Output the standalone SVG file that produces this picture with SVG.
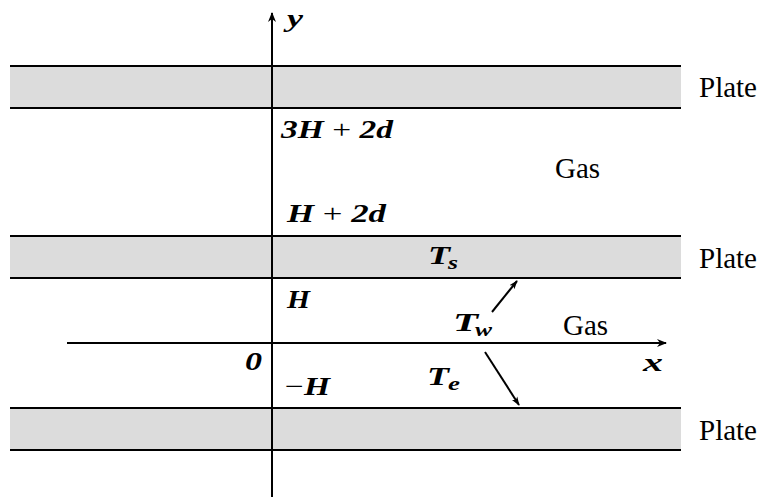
<svg xmlns="http://www.w3.org/2000/svg" width="763" height="498" viewBox="0 0 763 498">
<style>
.plate{fill:#dcdcdc;stroke:none}
.edge{stroke:#000;stroke-width:2.2;fill:none}
.ax{stroke:#000;stroke-width:2;fill:none}
.lbl{font-family:'Liberation Serif','Times New Roman','DejaVu Serif',serif;font-size:29px;fill:#000}
.m{font-family:'Liberation Serif','Times New Roman','DejaVu Serif',serif;font-size:26px;font-weight:bold;font-style:italic;fill:#000}
.sub{font-size:19px}
.up{font-style:normal;font-weight:normal}
</style>
<defs>
<marker id="ah" viewBox="0 0 10 10" refX="9" refY="5" markerWidth="10" markerHeight="10" markerUnits="userSpaceOnUse" orient="auto">
<path d="M0,1 L10,5 L0,9 L3,5 Z" fill="#000"/>
</marker>
<marker id="ah2" viewBox="0 0 10 10" refX="9" refY="5" markerWidth="9" markerHeight="9" markerUnits="userSpaceOnUse" orient="auto">
<path d="M0,1.5 L10,5 L0,8.5 L2.5,5 Z" fill="#000"/>
</marker>
</defs>
<g id="plate-top">
<rect class="plate" x="10" y="66" width="671" height="42"/>
<line class="edge" x1="10" y1="66" x2="681" y2="66"/>
<line class="edge" x1="10" y1="108" x2="681" y2="108"/>
<text class="lbl" x="699" y="97">Plate</text>
</g>
<g id="plate-mid">
<rect class="plate" x="10" y="236" width="671" height="42"/>
<line class="edge" x1="10" y1="236" x2="681" y2="236"/>
<line class="edge" x1="10" y1="278" x2="681" y2="278"/>
<text class="lbl" x="699" y="268">Plate</text>
<text class="m" x="428" y="264" textLength="22" lengthAdjust="spacingAndGlyphs">T</text>
<text class="m sub" x="448" y="269" textLength="10" lengthAdjust="spacingAndGlyphs">s</text>
</g>
<g id="plate-bot">
<rect class="plate" x="10" y="408" width="671" height="42"/>
<line class="edge" x1="10" y1="408" x2="681" y2="408"/>
<line class="edge" x1="10" y1="450" x2="681" y2="450"/>
<text class="lbl" x="699" y="440">Plate</text>
</g>
<g id="gas-upper">
<text class="lbl" x="555" y="178">Gas</text>
</g>
<g id="gas-lower">
<text class="lbl" x="563" y="335">Gas</text>
<text class="m" x="453" y="331" textLength="25" lengthAdjust="spacingAndGlyphs">T</text>
<text class="m sub" x="475" y="336" textLength="17" lengthAdjust="spacingAndGlyphs">w</text>
<text class="m" x="427" y="385" textLength="22" lengthAdjust="spacingAndGlyphs">T</text>
<text class="m sub" x="448" y="390" textLength="12" lengthAdjust="spacingAndGlyphs">e</text>
</g>
<g id="labels">
<text class="m" x="281" y="138" textLength="112" lengthAdjust="spacingAndGlyphs">3H <tspan class="up">+</tspan> 2d</text>
<text class="m" x="287" y="222" textLength="99" lengthAdjust="spacingAndGlyphs">H <tspan class="up">+</tspan> 2d</text>
<text class="m" x="287" y="308" textLength="23" lengthAdjust="spacingAndGlyphs">H</text>
<text class="m" x="285" y="395" textLength="45" lengthAdjust="spacingAndGlyphs"><tspan class="up">−</tspan>H</text>
<text class="m" x="245" y="370" textLength="17" lengthAdjust="spacingAndGlyphs">0</text>
<text class="m" x="287" y="27" textLength="16" lengthAdjust="spacingAndGlyphs">y</text>
<text class="m" x="643" y="371" textLength="20" lengthAdjust="spacingAndGlyphs">x</text>
</g>
<g id="connectors">
<line class="ax" x1="272" y1="497" x2="272" y2="13" marker-end="url(#ah)"/>
<line class="ax" x1="67" y1="343" x2="666" y2="343" marker-end="url(#ah)"/>
<line class="ax" x1="492" y1="312" x2="517" y2="281" stroke-width="1.5" marker-end="url(#ah2)"/>
<line class="ax" x1="485" y1="352" x2="519" y2="405" stroke-width="1.5" marker-end="url(#ah2)"/>
</g>
</svg>
